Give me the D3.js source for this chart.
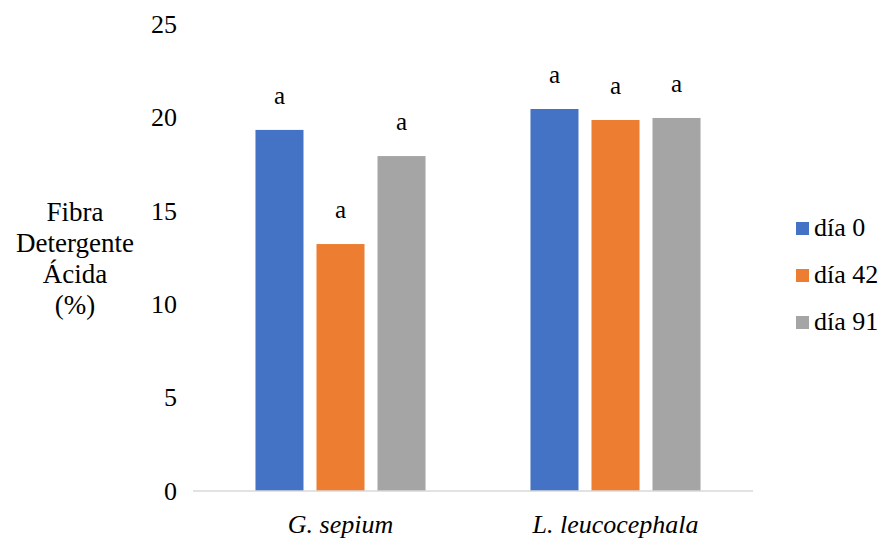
<!DOCTYPE html>
<html>
<head>
<meta charset="utf-8">
<script src="https://cdn.jsdelivr.net/npm/d3@7"></script>
<style>
  html, body { margin: 0; padding: 0; background: #fff; }
</style>
</head>
<body>
<svg id="chart" width="888" height="539"></svg>
<script>
// Fibra Detergente Ácida (%) por especie y día de muestreo
const categories = ["G. sepium", "L. leucocephala"];
const seriesNames = ["día 0", "día 42", "día 91"];
const dia0  = [19.33, 20.45];
const dia42 = [13.22, 19.86];
const dia91 = [17.93, 19.97];
const letters = [["a", "a", "a"], ["a", "a", "a"]];
const yTicks = [0, 5, 10, 15, 20, 25];
const colors = ["#4472C4", "#ED7D31", "#A5A5A5"];

const FONT = "'Liberation Serif', Tinos, 'Times New Roman', 'DejaVu Serif', serif";

const series = [dia0, dia42, dia91];
const rows = categories.map((c, i) => ({
  cat: c,
  vals: seriesNames.map((s, j) => ({ key: s, value: series[j][i], letter: letters[i][j] }))
}));

const svg = d3.select("#chart")
  .attr("font-family", FONT)
  .style("font-family", FONT);

const y = d3.scaleLinear().domain([0, 25]).range([491, 24]);
const x0 = d3.scaleBand().domain(categories).range([203, 753]);
const x1 = d3.scaleBand().domain(seriesNames).range([0, x0.bandwidth()])
  .paddingInner(0.213).paddingOuter(0.86);
const color = d3.scaleOrdinal().domain(seriesNames).range(colors);

// y tick labels only, no axis line
const yAxis = svg.append("g")
  .attr("transform", "translate(177,0)")
  .call(d3.axisLeft(y).tickValues(yTicks).tickSize(0).tickPadding(0));
yAxis.attr("font-family", FONT).attr("font-size", 26);
yAxis.select(".domain").remove();
yAxis.selectAll("text")
  .style("font-family", FONT)
  .style("font-size", "26px")
  .attr("fill", "#000");

// bars
const groups = svg.append("g").selectAll("g")
  .data(rows).join("g")
  .attr("transform", d => `translate(${x0(d.cat)},0)`);

groups.selectAll("rect")
  .data(d => d.vals).join("rect")
  .attr("x", d => x1(d.key))
  .attr("width", x1.bandwidth())
  .attr("y", d => y(d.value))
  .attr("height", d => y(0) - y(d.value))
  .attr("fill", d => color(d.key));

groups.selectAll("text.letter")
  .data(d => d.vals).join("text")
  .attr("class", "letter")
  .attr("x", d => x1(d.key) + x1.bandwidth() / 2)
  .attr("y", d => y(d.value) - 26)
  .attr("text-anchor", "middle")
  .style("font-family", FONT)
  .style("font-size", "25px")
  .text(d => d.letter);

// category axis line
svg.append("line")
  .attr("x1", 193).attr("x2", 753)
  .attr("y1", y(0)).attr("y2", y(0))
  .attr("stroke", "#D9D9D9").attr("stroke-width", 1.5);

svg.append("g").selectAll("text")
  .data(categories).join("text")
  .attr("x", d => x0(d) + x0.bandwidth() / 2)
  .attr("y", 533)
  .attr("text-anchor", "middle")
  .style("font-family", FONT)
  .style("font-size", "26px")
  .style("font-style", "italic")
  .text(d => d);

// y axis title
const titleLines = ["Fibra", "Detergente", "Ácida", "(%)"];
svg.append("text")
  .attr("text-anchor", "middle")
  .style("font-family", FONT)
  .style("font-size", "27px")
  .selectAll("tspan")
  .data(titleLines).join("tspan")
  .attr("x", 75)
  .attr("y", (d, i) => 221 + i * 31)
  .text(d => d);

// legend
const legend = svg.append("g").selectAll("g")
  .data(seriesNames).join("g")
  .attr("transform", (d, i) => `translate(796,${222 + i * 47})`);
legend.append("rect")
  .attr("width", 13).attr("height", 13)
  .attr("fill", d => color(d));
legend.append("text")
  .attr("x", 18).attr("y", 14)
  .style("font-family", FONT)
  .style("font-size", "26px")
  .text(d => d);
</script>
</body>
</html>
